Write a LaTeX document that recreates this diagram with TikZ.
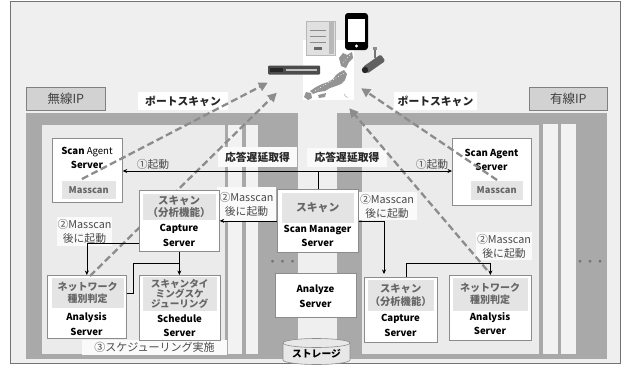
\documentclass[tikz,border=0pt]{standalone}
\usepackage{fontspec}
\setmainfont{Noto Sans CJK JP}
\usetikzlibrary{arrows.meta,calc}

\definecolor{bgc}{HTML}{EFEFEF}
\definecolor{panel}{HTML}{A9A9A9}
\definecolor{inner}{HTML}{EBEBEB}
\definecolor{strip}{HTML}{F2F2F2}
\definecolor{hdrfill}{HTML}{E4E4E4}
\definecolor{hdrtext}{HTML}{666666}
\definecolor{dashc}{HTML}{8C8C8C}
\definecolor{labfill}{HTML}{FAFAFA}
\definecolor{tagfill}{HTML}{D2D2D2}
\definecolor{notetext}{HTML}{4A4A4A}

\tikzset{
  srv/.style={draw=black!45, fill=white, line width=0.7pt, inner sep=0pt, anchor=north west},
  hdr/.style={fill=hdrfill, draw=black!10, inner sep=0pt, anchor=north west, text=hdrtext,
    font=\bfseries\fontsize{10}{12}\selectfont, align=center},
  sname/.style={font=\bfseries\fontsize{9.6}{14.5}\selectfont, align=center, text=black, inner sep=0pt},
  note/.style={fill=labfill, inner sep=0pt, text=notetext, font=\fontsize{10.8}{14}\selectfont, align=center},
  tagtext/.style={fill=white, inner sep=0pt, font=\bfseries\fontsize{10.8}{12}\selectfont, text=black!85},
  iptag/.style={fill=tagfill, draw=black!50, line width=0.6pt, anchor=north west, inner sep=0pt,
    text=black!75, font=\fontsize{12.5}{14}\selectfont},
  scanarrow/.style={draw=dashc, line width=2.3pt, dash pattern=on 7pt off 3.5pt,
    -{Triangle[length=9pt,width=9pt]}},
  conn/.style={draw=black, line width=0.6pt},
  arr/.style={conn, -{Stealth[length=4.5pt,width=4pt]}},
  dots/.style={text=black!55, font=\bfseries\fontsize{10}{12}\selectfont, inner sep=0pt}
}

\begin{document}
\begin{tikzpicture}[x=1pt,y=-1pt]
\useasboundingbox (0,0) rectangle (624,367);

% frame and background
\draw[draw=black!55, line width=0.8pt, fill=bgc] (10,1.5) rectangle (620,363.5);

% wireless group panels
\fill[panel] (26,113) rectangle (298,359);
\fill[inner] (42,125) rectangle (225,354);
\fill[strip] (228,125) rectangle (242,354);
\fill[strip] (246,125) rectangle (258,354);

% wired group panels
\fill[panel] (337,113) rectangle (607,359);
\fill[inner] (362,125) rectangle (539,354);
\fill[strip] (543,124) rectangle (558,354);
\fill[strip] (561,124) rectangle (576,354);

% group tags
\node[iptag, minimum width=79pt, minimum height=23pt] (tagL) at (26,87) {無線IP};
\node[iptag, minimum width=78pt, minimum height=23pt] (tagR) at (529,87) {有線IP};

% devices: map, server, router, phone, camera
\node[fill=white, minimum width=51pt, minimum height=60pt, inner sep=0pt] (jp) at (328.5,70) {};
\begin{scope}[fill=black!42]
\fill (339,58) -- (343,53) -- (347,55) -- (352,52) -- (353,58) -- (349,62) -- (346,68) -- (341,66) -- cycle;
\fill (344,70) -- (347,74) -- (345,80) -- (341,84) -- (336,86) -- (330,88) -- (325,91) -- (318,92)
  -- (313,94) -- (310,91) -- (316,87) -- (322,84) -- (328,82) -- (333,79) -- (336,75) -- (340,72) -- cycle;
\fill (318,95) -- (326,93) -- (325,97) -- (319,98) -- cycle;
\fill (306,92) -- (311,93) -- (312,98) -- (308,100) -- (304,97) -- cycle;
\end{scope}
\draw[white, line width=0.5pt, dash pattern=on 1pt off 2pt] (350,55) -- (343,63) (344,73) -- (315,91);
\draw[black!40, line width=0.4pt] (344,94) arc[start angle=200, end angle=250, radius=6pt];

\node[fill=black!12, draw=black!28, minimum width=29pt, minimum height=34pt, inner sep=0pt] (tower) at (320.5,38) {};
\fill[black!28] (329,22) rectangle (334,54);
\draw[black!45, line width=0.6pt] (310,30) -- (326,30) (310,36) -- (326,36) (310,42) -- (326,42);
\fill[black!60] (314,47) rectangle (322,50);

\node[fill=black!70, rounded corners=1pt, minimum width=52pt, minimum height=9pt, inner sep=0pt] (rt) at (294,70) {};
\fill[black!85] (270,68) rectangle (283,72);
\fill[black!25] (286,69) rectangle (317,71);

\node[fill=black, rounded corners=3pt, minimum width=23pt, minimum height=37pt, inner sep=0pt] (phone) at (356.5,31.5) {};
\fill[white] (348,18.5) rectangle (365,42);
\fill[white] (356.5,46) circle[radius=1.6pt];

\draw[black!55, line width=1.2pt] (375,48) -- (375,58);
\fill[black!45] (373,47) rectangle (377,50);
\node[fill=black!62, rotate=35, rounded corners=1.5pt, minimum width=22pt, minimum height=8pt, inner sep=0pt] (cam) at (374,64) {};
\fill[black!85] (365,70) circle[radius=3.2pt];

% labels above the groups
\node[tagtext, minimum width=90pt, minimum height=18pt] (psL) at (183,101) {ポートスキャン};
\node[tagtext, minimum width=83pt, minimum height=18pt] (psR) at (435.5,101) {ポートスキャン};
\node[tagtext, fill=labfill, minimum width=79pt, minimum height=20pt] (rdL) at (257.5,157) {応答遅延取得};
\node[tagtext, fill=labfill, minimum width=80pt, minimum height=19pt] (rdR) at (347,157.5) {応答遅延取得};

\node[note, fill=none] (kL) at (153,164) {①起動};
\node[note, fill=none] (kR) at (432,164) {①起動};

\node[note, minimum width=59pt, minimum height=34pt] (mA) at (246.5,204) {②Masscan\\後に起動};
\node[note, minimum width=55pt, minimum height=29pt] (mB) at (84.5,231.5) {②Masscan\\後に起動};
\node[note, minimum width=60pt, minimum height=28pt] (mC) at (387,206) {②Masscan\\後に起動};
\node[note, minimum width=56pt, minimum height=28pt] (mD) at (504,246) {②Masscan\\後に起動};
\node[note, minimum width=145pt, minimum height=15pt, font=\fontsize{11}{12}\selectfont] (sched) at (154.5,347.5) {③スケジューリング実施};

% storage
\draw[draw=black!45, line width=0.6pt, fill=black!9] (283,343) -- (283,360)
  arc[start angle=180, end angle=360, x radius=33.5pt, y radius=4.5pt] -- (350,343)
  arc[start angle=0, end angle=180, x radius=33.5pt, y radius=4.5pt] -- cycle;
\draw[draw=black!45, line width=0.6pt] (283,343) arc[start angle=180, end angle=360, x radius=33.5pt, y radius=4.5pt];
\node[sname, font=\bfseries\fontsize{9.8}{12}\selectfont] (st) at (316.5,354) {ストレージ};

% the more-servers marks
\node[dots] (dotsM) at (282.5,263) {・・・};
\node[dots] (dotsR) at (590,263) {・・・};

% wireless analysis server (drawn before the scan line that passes under the capture server)
\node[srv, minimum width=79pt, minimum height=63pt] (anL) at (47,275) {};
\node[hdr, minimum width=71pt, minimum height=29pt] (anLh) at (52,278) {ネットワーク\\種別判定};
\node[sname] (anLt) at (86.5,324) {Analysis\\Server};

% right analysis server
\node[srv, minimum width=82pt, minimum height=65pt] (anR) at (449,275) {};
\node[hdr, minimum width=74pt, minimum height=32pt] (anRh) at (453,278) {ネットワーク\\種別判定};
\node[sname] (anRt) at (490,323.5) {Analysis\\Server};

% response delay scans
\coordinate (a2s) at (90,276);
\coordinate (a2e) at ($(rt.south west)+(9,18)$);
\draw[scanarrow] (a2s) -- (a2e);
\coordinate (a4s) at (487,270);
\coordinate (a4e) at ($(jp.south east)+(-5,8)$);
\draw[scanarrow] (a4s) -- (a4e);

% servers
\node[srv, minimum width=70pt, minimum height=64pt] (saL) at (52,138) {};
\node[sname] (saLt) at (87,158) {Scan \mdseries Agent\\Server};
\node[hdr, minimum width=53pt, minimum height=17pt, font=\bfseries\fontsize{9.3}{10}\selectfont] (msL) at (62,181) {Masscan};

\node[srv, minimum width=79pt, minimum height=67pt] (saR) at (452,138) {};
\node[sname] (saRt) at (491.5,160) {Scan Agent\\Server};
\node[hdr, minimum width=51pt, minimum height=18pt, font=\bfseries\fontsize{9.3}{10}\selectfont] (msR) at (471,181) {Masscan};

\node[srv, minimum width=80pt, minimum height=61pt] (capL) at (139,190) {};
\node[hdr, minimum width=72pt, minimum height=25pt, font=\bfseries\fontsize{10.5}{12}\selectfont] (capLh) at (143,194) {スキャン\\（分析機能）};
\node[sname] (capLt) at (179,235.5) {Capture\\Server};

\node[srv, minimum width=81pt, minimum height=65pt] (schL) at (139,275) {};
\node[hdr, minimum width=73pt, minimum height=33pt, font=\bfseries\fontsize{9.6}{10.3}\selectfont] (schLh) at (143,277) {スキャンタイ\\ミングスケ\\ジューリング};
\node[sname] (schLt) at (179.5,325.5) {Schedule\\Server};

\node[srv, minimum width=81pt, minimum height=63pt] (smgr) at (277,189) {};
\node[hdr, minimum width=71pt, minimum height=29pt, font=\bfseries\fontsize{10.8}{12}\selectfont] (smgrh) at (282,193) {スキャン};
\node[sname] (smgrt) at (317.5,236) {Scan Manager\\Server};

\node[srv, minimum width=81pt, minimum height=44pt] (anz) at (275,273) {};
\node[sname] (anzt) at (315.5,296) {Analyze\\Server};

\node[srv, minimum width=73pt, minimum height=65pt] (capR) at (364,277) {};
\node[hdr, minimum width=65pt, minimum height=30pt, font=\bfseries\fontsize{10.3}{12.5}\selectfont] (capRh) at (368,280) {スキャン\\（分析機能）};
\node[sname] (capRt) at (400.5,325.5) {Capture\\Server};

% port scans
\coordinate (a1s) at (82,179);
\coordinate (a1e) at ($(rt.south west)+(0,8)$);
\draw[scanarrow] (a1s) -- (a1e);
\coordinate (a3s) at (497,180);
\coordinate (a3e) at ($(jp.south east)+(7,-12)$);
\draw[scanarrow] (a3s) -- (a3e);

% control connectors
\coordinate (bus) at (smgr.north |- 0,171);
\draw[conn] (smgr.north) -- (bus);
\draw[arr] (bus) -- (saL.east |- bus);
\draw[arr] (bus) -- (saR.west |- bus);
\draw[arr] (smgr.west) -- (capL.east);
\draw[arr] (smgr.east) -| ($(capR.north west)+(20,-3)$);
\draw[arr] (capL.south) -- (capL.south |- schL.north);
\draw[arr] ($(capL.south west)+(0,-8)$) -| (anL.north);
\coordinate (jL) at (capL.south |- 0,263);
\draw[conn] ($(anL.north east)+(0,18)$) -- ++(7,0) |- (jL);
\draw[arr] ($(capR.north)+(5.5,0)$) -- ++(0,-14) -| (anR.north);
\end{tikzpicture}
\end{document}
